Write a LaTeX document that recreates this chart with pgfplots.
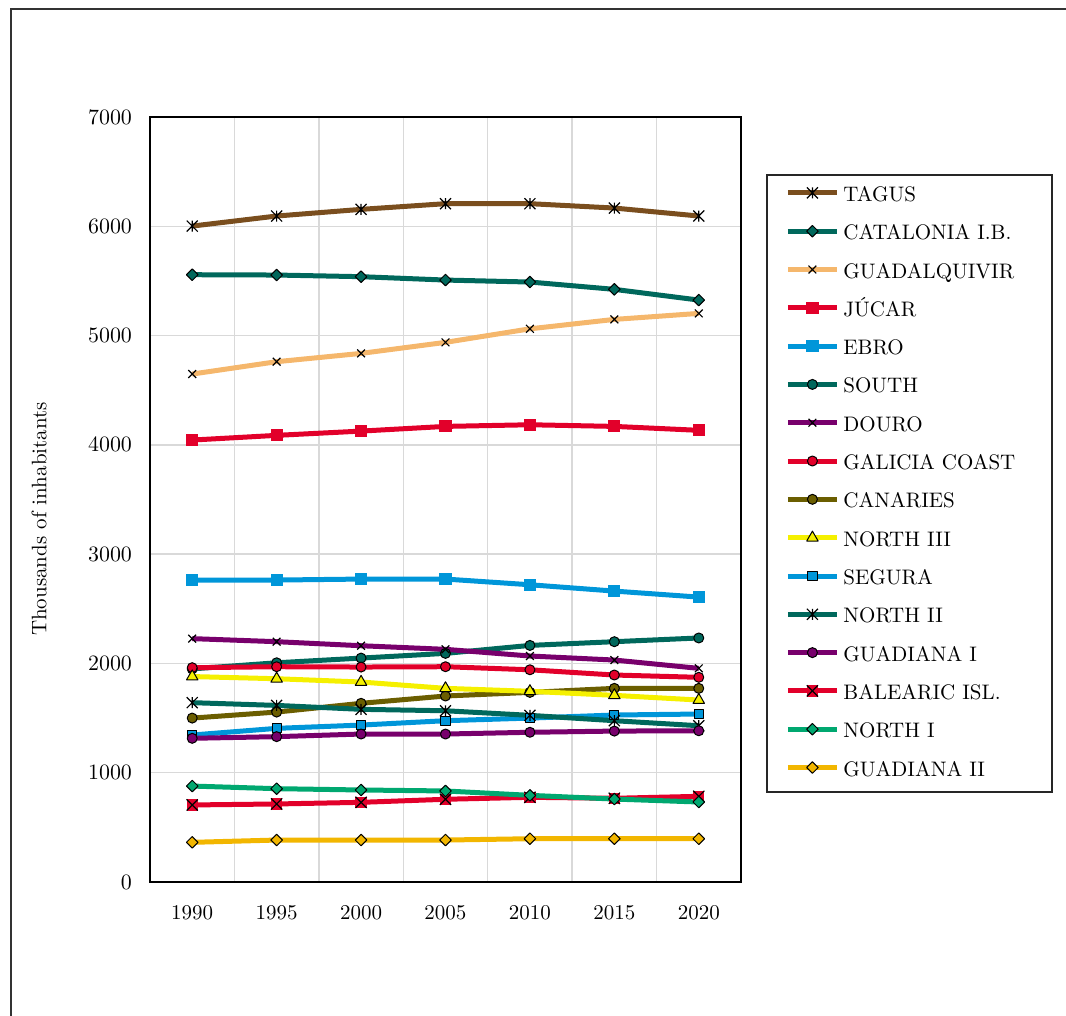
\documentclass[border=0pt]{standalone}
\usepackage{pgfplots}
\pgfplotsset{compat=1.18}

% series colours
\definecolor{cTagus}{RGB}{122,78,30}
\definecolor{cTeal}{RGB}{0,104,92}
\definecolor{cGuadalq}{RGB}{245,183,108}
\definecolor{cRed}{RGB}{226,0,42}
\definecolor{cBlue}{RGB}{0,150,217}
\definecolor{cPurple}{RGB}{120,0,108}
\definecolor{cOlive}{RGB}{107,94,0}
\definecolor{cYellow}{RGB}{245,240,0}
\definecolor{cGreen}{RGB}{0,168,112}
\definecolor{cGold}{RGB}{242,182,0}
\definecolor{cGrid}{RGB}{217,217,217}

% x with a vertical bar through it
\pgfdeclareplotmark{xbar}{%
  \pgfpathmoveto{\pgfqpoint{-\pgfplotmarksize}{-\pgfplotmarksize}}%
  \pgfpathlineto{\pgfqpoint{\pgfplotmarksize}{\pgfplotmarksize}}%
  \pgfpathmoveto{\pgfqpoint{-\pgfplotmarksize}{\pgfplotmarksize}}%
  \pgfpathlineto{\pgfqpoint{\pgfplotmarksize}{-\pgfplotmarksize}}%
  \pgfpathmoveto{\pgfqpoint{0pt}{-\pgfplotmarksize}}%
  \pgfpathlineto{\pgfqpoint{0pt}{\pgfplotmarksize}}%
  \pgfusepathqstroke}
% filled square with a cross on top
\pgfdeclareplotmark{sqx}{%
  \pgfpathrectangle{\pgfqpoint{-\pgfplotmarksize}{-\pgfplotmarksize}}{\pgfqpoint{2\pgfplotmarksize}{2\pgfplotmarksize}}%
  \pgfusepathqfill
  \pgfpathmoveto{\pgfqpoint{-\pgfplotmarksize}{-\pgfplotmarksize}}%
  \pgfpathlineto{\pgfqpoint{\pgfplotmarksize}{\pgfplotmarksize}}%
  \pgfpathmoveto{\pgfqpoint{-\pgfplotmarksize}{\pgfplotmarksize}}%
  \pgfpathlineto{\pgfqpoint{\pgfplotmarksize}{-\pgfplotmarksize}}%
  \pgfusepathqstroke}
% square rhombus
\pgfdeclareplotmark{rhomb}{%
  \pgfpathmoveto{\pgfqpoint{0pt}{\pgfplotmarksize}}%
  \pgfpathlineto{\pgfqpoint{\pgfplotmarksize}{0pt}}%
  \pgfpathlineto{\pgfqpoint{0pt}{-\pgfplotmarksize}}%
  \pgfpathlineto{\pgfqpoint{-\pgfplotmarksize}{0pt}}%
  \pgfpathclose
  \pgfusepathqfillstroke}

\begin{document}
\begin{tikzpicture}[font=\fontsize{10.5}{12.6}\selectfont]
\useasboundingbox (0,0) rectangle (533pt,-508pt);
% outer frame
\draw[color=black!80, line width=1pt] (5.3pt,-560pt) -- (5.3pt,-4.5pt) -- (560pt,-4.5pt);

\begin{axis}[
  at={(75pt,-441pt)}, anchor=south west,
  scale only axis, width=295.5pt, height=382.5pt,
  xmin=-0.5, xmax=6.5, ymin=0, ymax=7000,
  xtick={0,...,6},
  xticklabels={1990,1995,2000,2005,2010,2015,2020},
  minor xtick={0.5,1.5,...,5.5},
  ytick={0,1000,...,7000},
  scaled y ticks=false,
  yticklabel style={/pgf/number format/.cd,fixed,1000 sep={}},
  xminorgrids=true, xmajorgrids=false, ymajorgrids=true,
  grid style={color=cGrid, line width=0.7pt},
  minor grid style={color=cGrid, line width=0.7pt},
  major tick length=0pt, minor tick length=0pt,
  axis line style={black, line width=0.9pt},
  tick label style={font=\fontsize{10.5}{12.6}\selectfont},
  yticklabel shift=5.5pt,
  xticklabel shift=8pt,
  every axis plot/.append style={line width=2.5pt, line join=round},
  legend cell align=left,
  legend style={at={(1.0745,0.9098)}, anchor=north west, draw=none, fill=none,
    inner sep=0pt, row sep=8.15pt, column sep=2pt,
    nodes={inner sep=0pt, text height=7.5pt, text depth=3.5pt},
    font=\fontsize{10.5}{12.6}\selectfont},
  legend image code/.code={%
    \draw[mark repeat=2, mark phase=2, #1] plot coordinates {(0pt,2.25pt) (12.25pt,2.25pt) (24.5pt,2.25pt)};},
]
% TAGUS
\addplot[color=cTagus, mark=xbar, mark size=2.75pt, mark options={draw=black, line width=0.6pt, solid}]
  coordinates {(0,6002) (1,6094) (2,6155) (3,6207) (4,6207) (5,6167) (6,6094)};
\addlegendentry{TAGUS}
% CATALONIA I.B.
\addplot[color=cTeal, mark=rhomb, mark size=2.9pt, mark options={draw=black, fill=cTeal, line width=0.5pt, solid}]
  coordinates {(0,5557) (1,5554) (2,5539) (3,5508) (4,5490) (5,5423) (6,5325)};
\addlegendentry{CATALONIA I.B.}
% GUADALQUIVIR
\addplot[color=cGuadalq, mark=x, mark size=2.75pt, mark options={draw=black, line width=0.6pt, solid}]
  coordinates {(0,4648) (1,4761) (2,4837) (3,4938) (4,5062) (5,5148) (6,5203)};
\addlegendentry{GUADALQUIVIR}
% JUCAR
\addplot[color=cRed, mark=square*, mark size=2.8pt, mark options={draw=cRed, fill=cRed, line width=0pt, solid}]
  coordinates {(0,4044) (1,4087) (2,4126) (3,4169) (4,4184) (5,4169) (6,4133)};
\addlegendentry{JÚCAR}
% EBRO
\addplot[color=cBlue, mark=square*, mark size=2.8pt, mark options={draw=cBlue, fill=cBlue, line width=0pt, solid}]
  coordinates {(0,2763) (1,2763) (2,2772) (3,2772) (4,2720) (5,2662) (6,2607)};
\addlegendentry{EBRO}
% SOUTH
\addplot[color=cTeal, mark=*, mark size=2.5pt, mark options={draw=black, fill=cTeal, line width=0.5pt, solid}]
  coordinates {(0,1950) (1,2006) (2,2049) (3,2092) (4,2165) (5,2199) (6,2233)};
\addlegendentry{SOUTH}
% DOURO
\addplot[color=cPurple, mark=x, mark size=2.75pt, mark options={draw=black, line width=0.6pt, solid}]
  coordinates {(0,2227) (1,2199) (2,2162) (3,2129) (4,2068) (5,2031) (6,1955)};
\addlegendentry{DOURO}
% GALICIA COAST
\addplot[color=cRed, mark=*, mark size=2.5pt, mark options={draw=black, fill=cRed, line width=0.5pt, solid}]
  coordinates {(0,1961) (1,1970) (2,1967) (3,1970) (4,1942) (5,1894) (6,1873)};
\addlegendentry{GALICIA COAST}
% CANARIES
\addplot[color=cOlive, mark=*, mark size=2.5pt, mark options={draw=black, fill=cOlive, line width=0.5pt, solid}]
  coordinates {(0,1500) (1,1555) (2,1635) (3,1702) (4,1735) (5,1772) (6,1772)};
\addlegendentry{CANARIES}
% NORTH III
\addplot[color=cYellow, mark=triangle*, mark size=3.3pt, mark options={draw=black, fill=cYellow, line width=0.5pt, solid}]
  coordinates {(0,1880) (1,1860) (2,1830) (3,1772) (4,1745) (5,1708) (6,1665)};
\addlegendentry{NORTH III}
% SEGURA
\addplot[color=cBlue, mark=square*, mark size=2.3pt, mark options={draw=black, fill=cBlue, line width=0.5pt, solid}]
  coordinates {(0,1345) (1,1406) (2,1436) (3,1476) (4,1500) (5,1528) (6,1537)};
\addlegendentry{SEGURA}
% NORTH II
\addplot[color=cTeal, mark=xbar, mark size=2.75pt, mark options={draw=black, line width=0.6pt, solid}]
  coordinates {(0,1641) (1,1616) (2,1580) (3,1567) (4,1525) (5,1476) (6,1430)};
\addlegendentry{NORTH II}
% GUADIANA I
\addplot[color=cPurple, mark=*, mark size=2.5pt, mark options={draw=black, fill=cPurple, line width=0.5pt, solid}]
  coordinates {(0,1315) (1,1330) (2,1354) (3,1354) (4,1370) (5,1381) (6,1384)};
\addlegendentry{GUADIANA I}
% BALEARIC ISL.
\addplot[color=cRed, mark=sqx, mark size=2.8pt, mark options={draw=black, fill=cRed, line width=0.6pt, solid}]
  coordinates {(0,705) (1,714) (2,729) (3,757) (4,775) (5,766) (6,784)};
\addlegendentry{BALEARIC ISL.}
% NORTH I
\addplot[color=cGreen, mark=rhomb, mark size=2.9pt, mark options={draw=black, fill=cGreen, line width=0.5pt, solid}]
  coordinates {(0,878) (1,854) (2,842) (3,833) (4,793) (5,759) (6,732)};
\addlegendentry{NORTH I}
% GUADIANA II
\addplot[color=cGold, mark=rhomb, mark size=2.9pt, mark options={draw=black, fill=cGold, line width=0.5pt, solid}]
  coordinates {(0,363) (1,384) (2,384) (3,384) (4,396) (5,396) (6,396)};
\addlegendentry{GUADIANA II}
\end{axis}

% legend frame
\draw[black!85, line width=0.9pt] (383.6pt,-87.5pt) rectangle (526pt,-396pt);
% y axis title
\node[rotate=90] at (19.5pt,-259.5pt) {Thousands of inhabitants};
\end{tikzpicture}
\end{document}
